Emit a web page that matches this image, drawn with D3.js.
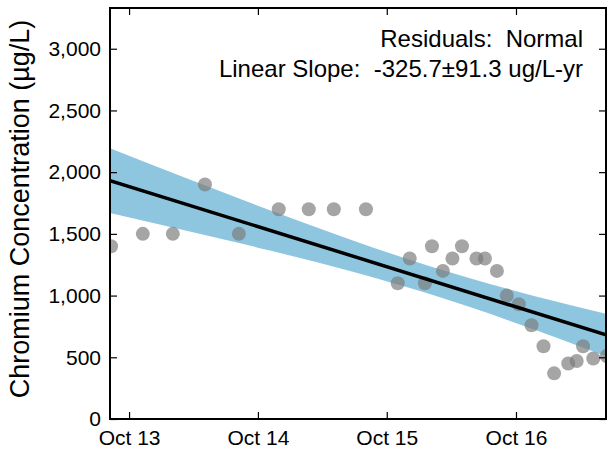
<!DOCTYPE html>
<html>
<head>
<meta charset="utf-8">
<script src="https://cdn.jsdelivr.net/npm/d3@7"></script>
<style>
  body { margin: 0; background: #fff; }
  text { font-family: "Liberation Sans", Arial, sans-serif; white-space: pre; }
</style>
</head>
<body>
<svg id="chart" width="608" height="451"></svg>
<script>
// ---- data ----
const sampleDates = ["2013-08-11","2013-11-09","2014-02-02","2014-05-04","2014-08-08","2014-11-29",
  "2015-02-22","2015-05-04","2015-08-03","2015-11-01","2015-12-05","2016-01-17","2016-02-06",
  "2016-03-08","2016-04-04","2016-05-01","2016-06-11","2016-07-05","2016-08-08","2016-09-05",
  "2016-10-09","2016-11-14","2016-12-18","2017-01-17","2017-02-26","2017-03-22","2017-04-09",
  "2017-05-08","2017-06-15"];
const sampleValues = [1400,1500,1500,1900,1500,1700,1700,1700,1700,1100,1300,1100,1400,
  1200,1300,1400,1300,1300,1200,1000,930,760,590,370,450,470,590,490,510];

const trendDates = ["2013-08-08","2017-06-13"];
const trendValues = [1932, 681];

const bandDates = ["2013-08-08","2014-03-22","2014-11-04","2015-06-19","2016-01-31","2016-09-14","2017-06-13"];
const bandLower = [1670,1520,1365,1200,1012,795,509];
const bandUpper = [2194,1940,1692,1455,1238,1050,853];

const xTickDates = ["2013-10-01","2014-10-01","2015-10-01","2016-10-01"];
const xTickLabels = ["Oct 13","Oct 14","Oct 15","Oct 16"];
const yTicks = [0,500,1000,1500,2000,2500,3000];
const xDomain = ["2013-08-08","2017-06-13"];
const yDomain = [0, 3330];

const yLabel = "Chromium Concentration (\u00b5g/L)";
const note1 = "Residuals:  Normal";
const note2 = "Linear Slope:  -325.7\u00b191.3 ug/L-yr";

// ---- drawing ----
const parse = d3.utcParse("%Y-%m-%d");
const svg = d3.select("#chart");
const L = 110, R = 606, T = 8, B = 419;

const x = d3.scaleUtc().domain(xDomain.map(parse)).range([L, R]);
const y = d3.scaleLinear().domain(yDomain).range([B, T]);

svg.append("defs").append("clipPath").attr("id", "clip")
  .append("rect").attr("x", L).attr("y", T).attr("width", R - L).attr("height", B - T);

const plot = svg.append("g").attr("clip-path", "url(#clip)");

const band = bandDates.map((d, i) => ({ d: parse(d), lo: bandLower[i], hi: bandUpper[i] }));
plot.append("path").datum(band)
  .attr("fill", "#8fc6df")
  .attr("d", d3.area().curve(d3.curveMonotoneX)
    .x(p => x(p.d)).y0(p => y(p.lo)).y1(p => y(p.hi)));

const pts = sampleDates.map((d, i) => ({ d: parse(d), v: sampleValues[i] }));
plot.selectAll("circle").data(pts).enter().append("circle")
  .attr("cx", p => x(p.d)).attr("cy", p => y(p.v)).attr("r", 7)
  .attr("fill", "#7a7a7a").attr("fill-opacity", 0.68);

const trend = trendDates.map((d, i) => ({ d: parse(d), v: trendValues[i] }));
plot.append("path").datum(trend)
  .attr("fill", "none").attr("stroke", "#000").attr("stroke-width", 3.5)
  .attr("d", d3.line().x(p => x(p.d)).y(p => y(p.v)));

// axes
const fmt = d3.format(",");
const tickDates = xTickDates.map(parse);
const axB = d3.axisBottom(x).tickValues(tickDates).tickSizeInner(-7).tickSizeOuter(0)
  .tickPadding(11).tickFormat((d, i) => xTickLabels[i]);
const axT = d3.axisTop(x).tickValues(tickDates).tickSizeInner(-7).tickSizeOuter(0).tickFormat("");
const axL = d3.axisLeft(y).tickValues(yTicks).tickSizeInner(-7).tickSizeOuter(0)
  .tickPadding(9).tickFormat(fmt);
const axR = d3.axisRight(y).tickValues(yTicks).tickSizeInner(-7).tickSizeOuter(0).tickFormat("");

function style(g) {
  g.select(".domain").remove();
  g.selectAll(".tick line").attr("stroke", "#000").attr("stroke-width", 1.2);
  g.selectAll(".tick text").attr("fill", "#000").style("font-size", "21px")
    .style("font-family", "'Liberation Sans', Arial, sans-serif");
}
svg.append("g").attr("transform", `translate(0,${B})`).call(axB).call(style);
svg.append("g").attr("transform", `translate(0,${T})`).call(axT).call(style);
svg.append("g").attr("transform", `translate(${L},0)`).call(axL).call(style);
svg.append("g").attr("transform", `translate(${R},0)`).call(axR).call(style);

svg.append("rect").attr("x", L).attr("y", T).attr("width", R - L).attr("height", B - T)
  .attr("fill", "none").attr("stroke", "#000").attr("stroke-width", 2);

// labels
svg.append("text").attr("transform", `translate(29,209) rotate(-90)`)
  .attr("text-anchor", "middle").style("font-size", "27px").text(yLabel);

svg.append("text").attr("x", 583).attr("y", 47).attr("text-anchor", "end")
  .style("font-size", "24px").text(note1);
svg.append("text").attr("x", 583).attr("y", 77).attr("text-anchor", "end")
  .style("font-size", "24px").text(note2);
</script>
</body>
</html>
